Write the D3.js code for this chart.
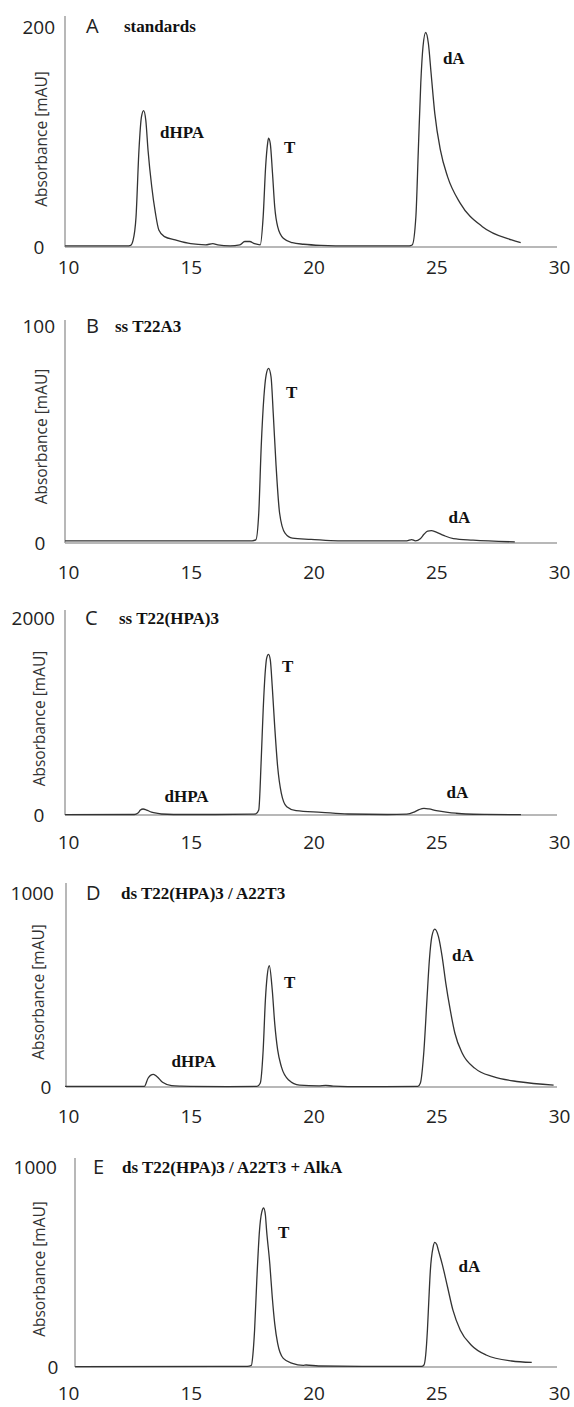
<!DOCTYPE html>
<html>
<head>
<meta charset="utf-8">
<script src="https://cdn.jsdelivr.net/npm/d3@7"></script>
<style>
body { margin: 0; background: #fff; }
svg { display: block; }
.tick text { font-family: "Open Sans", sans-serif; font-size: 19px; fill: #222; }
.letter { font-family: "Open Sans", sans-serif; font-size: 20px; fill: #222; }
.ylab { font-family: "Open Sans", sans-serif; font-size: 15.5px; fill: #333; }
.title, .peak { font-family: "Liberation Serif", "Times New Roman", serif; font-weight: bold; font-size: 17px; fill: #111; }
</style>
</head>
<body>
<script>
// retention time ticks (min)
var xTicks = [10, 15, 20, 25, 30];

// A: standards
var timeA = [9.88, 12.4, 12.55, 12.65, 12.77, 12.89, 12.99, 13.08, 13.17, 13.26, 13.41, 13.56, 13.7, 13.93, 14.37, 15.0, 15.6, 15.9, 16.1, 16.6,
             17.0, 17.2, 17.4, 17.6, 17.83, 17.95, 18.05, 18.13, 18.17, 18.24, 18.33, 18.42, 18.54, 18.77, 19.14, 19.6, 20.3, 21.5, 23.9,
             24.02, 24.17, 24.27, 24.37, 24.46, 24.57, 24.68, 24.79, 24.94, 25.17, 25.46, 25.98, 26.88, 28.07, 28.44];
var absA  = [1, 1, 1.5, 6, 27, 88, 118, 124, 115, 88, 55, 31, 15.5, 9.4, 6.4, 3, 2, 3, 2, 1,
             2, 5, 5, 3, 2, 27.6, 73, 94, 99, 94, 67, 36.6, 18.5, 7.9, 3.9, 2.5, 1.5, 1, 1,
             1.8, 27.5, 88, 149, 182, 195, 185, 158, 121.5, 88, 64, 39.7, 18.5, 6.4, 3.9];

// B: ss T22A3
var timeB = [9.88, 12, 17.5, 17.65, 17.77, 17.87, 17.98, 18.07, 18.17, 18.27, 18.36, 18.47, 18.62, 18.84, 19.14, 19.9, 21, 23.8, 24.0, 24.15,
             24.35, 24.5, 24.65, 24.8, 25.0, 25.3, 25.7, 26.5, 28.2];
var absB  = [1, 1, 1, 1.4, 13.7, 44.4, 67.4, 77.4, 80.5, 76.6, 59.8, 36.7, 13.7, 4.5, 2.2, 1.7, 1, 1, 1.6, 1,
             2, 4, 5.5, 5.7, 5, 3.5, 2, 1.3, 0.5];

// C: ss T22(HPA)3
var timeC = [9.88, 12.7, 12.85, 12.95, 13.06, 13.2, 13.4, 13.6, 13.8, 14.3, 16, 17.5, 17.65, 17.77, 17.87, 17.95, 18.04, 18.09, 18.17, 18.24, 18.32,
             18.42, 18.54, 18.69, 18.91, 19.29, 20.33, 21.4, 23, 23.8, 24.1, 24.3, 24.5, 24.7, 25.0, 25.4, 25.8, 26.2, 27, 28.45];
var absC  = [3, 5, 20, 50, 61, 50, 30, 18, 10, 5, 5, 8, 12, 51, 558, 1066, 1472, 1591, 1631, 1574, 1303,
             897, 490, 220, 84, 44, 27, 10, 5, 8, 30, 55, 68, 62, 45, 30, 18, 10, 6, 4];

// D: ds T22(HPA)3 / A22T3
var timeD = [9.88, 13.0, 13.11, 13.26, 13.36, 13.48, 13.63, 13.85, 14.22, 14.6, 15, 16.5, 17.7, 17.83, 17.95, 18.04, 18.11, 18.2, 18.32,
             18.42, 18.54, 18.69, 18.99, 19.43, 20.2, 20.5, 20.8, 22, 24.25, 24.35, 24.5, 24.62, 24.72, 24.82, 24.94, 25.09, 25.24,
             25.39, 25.57, 25.76, 26.06, 26.58, 27.32, 28.37, 29.78];
var absD  = [3, 3, 3, 45, 60, 65, 53, 24, 7, 4, 3, 2, 3, 19, 191, 448, 569, 625, 500,
             328, 191, 105, 36, 10, 6, 8, 5, 2, 3, 19, 191, 448, 655, 775, 814, 775, 672,
             534, 397, 277, 174, 96, 53, 27, 10];

// E: ds T22(HPA)3 / A22T3 + AlkA
var timeE = [10.29, 17.3, 17.47, 17.53, 17.6, 17.69, 17.8, 17.89, 17.97, 18.04, 18.09, 18.22, 18.32, 18.42, 18.54, 18.77, 19.14, 19.58,
             19.7, 20.2, 22, 24.4, 24.5, 24.57, 24.64, 24.7, 24.76, 24.87, 24.94, 25.02, 25.09, 25.24, 25.46, 25.68, 25.98, 26.43,
             27.03, 28.07, 28.89];
var absE  = [2, 3, 8, 60, 184, 433, 682, 773, 795, 760, 682, 516, 350, 217, 118, 43, 18, 8,
             10, 5, 3, 3, 10, 60, 184, 340, 483, 598, 623, 612, 582, 516, 400, 284, 184, 109,
             60, 30, 23];

// peak annotations: [text, time, absorbance] (left edge / baseline of label)
var peaksA = [["dHPA", 13.75, 99], ["T", 18.8, 85.5], ["dA", 25.27, 166]];
var peaksB = [["T", 18.88, 66.8], ["dA", 25.5, 9.2]];
var peaksC = [["dHPA", 13.93, 132], ["T", 18.72, 1452], ["dA", 25.42, 173]];
var peaksD = [["dHPA", 14.22, 103], ["T", 18.8, 510], ["dA", 25.64, 649]];
var peaksE = [["T", 18.55, 647], ["dA", 25.91, 473]];

var panels = [
  {letter: "A", title: "standards", time: timeA, abs: absA, peaks: peaksA, ymax: 200,
   axisX: 65, base: 247, top: 27, axisTop: 16, xPad: 14, yPad: 10, zeroDx: -26,
   letterX: 86, letterY: 33, titleX: 124, titleY: 32, ylabX: 41},
  {letter: "B", title: "ss T22A3", time: timeB, abs: absB, peaks: peaksB, ymax: 100,
   axisX: 65, base: 543, top: 326, axisTop: 320, xPad: 23, yPad: 10, zeroDx: -25,
   letterX: 86, letterY: 333, titleX: 115, titleY: 332, ylabX: 41},
  {letter: "C", title: "ss T22(HPA)3", time: timeC, abs: absC, peaks: peaksC, ymax: 2000,
   axisX: 65, base: 815, top: 618, axisTop: 610, xPad: 21, yPad: 10, zeroDx: -26,
   letterX: 85, letterY: 625, titleX: 119, titleY: 624, ylabX: 39},
  {letter: "D", title: "ds T22(HPA)3 / A22T3", time: timeD, abs: absD, peaks: peaksD, ymax: 1000,
   axisX: 66, base: 1087, top: 893, axisTop: 883, xPad: 23, yPad: 12, zeroDx: -20,
   letterX: 86, letterY: 900, titleX: 121, titleY: 899, ylabX: 37.5},
  {letter: "E", title: "ds T22(HPA)3 / A22T3 + AlkA", time: timeE, abs: absE, peaks: peaksE, ymax: 1000,
   axisX: 75, base: 1367, top: 1167, axisTop: 1158, xPad: 20, yPad: 18, zeroDx: -22,
   letterX: 93, letterY: 1174, titleX: 122, titleY: 1173, ylabX: 39}
];

var width = 574, height = 1407;
var axisColor = "#a0a0a0", traceColor = "#333";

var x = d3.scaleLinear().domain([10, 30]).range([68, 559]);

var svg = d3.select("body").append("svg")
    .attr("width", width)
    .attr("height", height);

panels.forEach(function(p) {
  var y = d3.scaleLinear().domain([0, p.ymax]).range([p.base, p.top]);
  var g = svg.append("g");

  // x axis labels
  g.append("g")
      .attr("transform", "translate(0," + p.base + ")")
      .call(d3.axisBottom(x).tickValues(xTicks).tickSize(0).tickPadding(p.xPad))
      .call(function(a) { a.select(".domain").remove(); });

  // y axis labels
  var ya = g.append("g")
      .attr("transform", "translate(" + p.axisX + ",0)")
      .call(d3.axisLeft(y).tickValues([0, p.ymax]).tickFormat(d3.format("d")).tickSize(0).tickPadding(p.yPad));
  ya.select(".domain").remove();
  ya.selectAll(".tick text").filter(function(d) { return d === 0; })
      .attr("text-anchor", "middle")
      .attr("x", p.zeroDx);

  // axis lines
  g.append("line")
      .attr("x1", p.axisX).attr("x2", x.range()[1] - 2)
      .attr("y1", p.base).attr("y2", p.base)
      .attr("stroke", axisColor).attr("stroke-width", 1.5);
  g.append("line")
      .attr("x1", p.axisX).attr("x2", p.axisX)
      .attr("y1", p.base).attr("y2", p.axisTop)
      .attr("stroke", axisColor).attr("stroke-width", 1.5);

  // y label
  g.append("text")
      .attr("class", "ylab")
      .attr("transform", "translate(" + p.ylabX + "," + ((p.base + p.top) / 2 + 2) + ") rotate(-90)")
      .attr("text-anchor", "middle")
      .attr("dominant-baseline", "central")
      .text("Absorbance [mAU]");

  // trace
  var pts = p.time.map(function(t, i) { return [t, p.abs[i]]; });
  var line = d3.line()
      .x(function(d) { return x(d[0]); })
      .y(function(d) { return y(d[1]); })
      .curve(d3.curveMonotoneX);
  g.append("path")
      .datum(pts)
      .attr("fill", "none")
      .attr("stroke", traceColor)
      .attr("stroke-width", 1.3)
      .attr("d", line);

  // panel letter + title
  g.append("text").attr("class", "letter")
      .attr("x", p.letterX).attr("y", p.letterY).text(p.letter);
  g.append("text").attr("class", "title")
      .attr("x", p.titleX).attr("y", p.titleY).text(p.title);

  // peak labels
  g.selectAll(".peak").data(p.peaks).enter().append("text")
      .attr("class", "peak")
      .attr("x", function(d) { return x(d[1]); })
      .attr("y", function(d) { return y(d[2]); })
      .text(function(d) { return d[0]; });
});
</script>
</body>
</html>
